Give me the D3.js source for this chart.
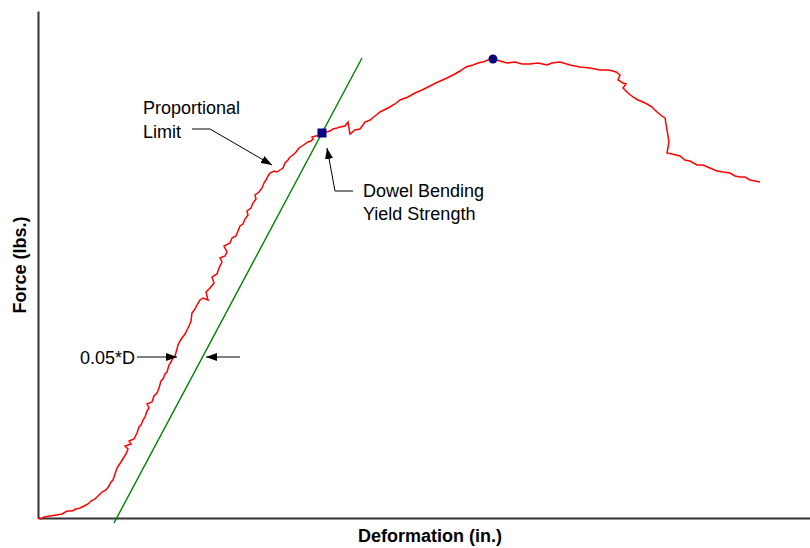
<!DOCTYPE html>
<html>
<head>
<meta charset="utf-8">
<script src="https://cdn.jsdelivr.net/npm/d3@7"></script>
<style>
  body { margin: 0; background: #fff; }
  svg { display: block; font-family: "Liberation Sans", Arial, sans-serif; }
  .note { font-size: 18px; fill: #000; }
  .axis-title { font-size: 18px; font-weight: bold; fill: #000; }
</style>
</head>
<body>
<div id="chart"></div>
<script>
const width = 810;
const height = 548;

// load-deformation record: [deformation (in.), force (lbs.)]
const curve = [
  [0.000,0],[0.003,-10],[0.006,10],[0.012,20],[0.018,30],[0.024,40],[0.029,70],[0.034,70],
  [0.038,90],[0.042,100],[0.046,120],[0.050,140],[0.053,170],[0.057,190],[0.061,230],[0.064,260],
  [0.068,280],[0.071,320],[0.073,360],[0.075,380],[0.077,440],[0.079,500],[0.081,530],[0.083,560],
  [0.086,610],[0.088,640],[0.090,690],[0.087,720],[0.093,740],[0.091,770],[0.096,790],[0.099,850],
  [0.101,910],[0.103,930],[0.105,980],[0.107,1010],[0.109,1070],[0.111,1100],[0.109,1140],[0.114,1160],
  [0.116,1220],[0.119,1250],[0.121,1300],[0.123,1370],[0.125,1390],[0.127,1440],[0.129,1460],[0.131,1530],
  [0.133,1560],[0.135,1600],[0.137,1620],[0.139,1690],[0.140,1730],[0.142,1770],[0.144,1800],[0.147,1840],
  [0.149,1880],[0.151,1920],[0.153,1970],[0.154,2050],[0.157,2090],[0.159,2130],[0.162,2180],[0.165,2200],
  [0.170,2180],[0.168,2260],[0.172,2300],[0.176,2350],[0.174,2410],[0.179,2440],[0.181,2500],[0.184,2560],
  [0.182,2600],[0.187,2620],[0.189,2660],[0.186,2720],[0.192,2750],[0.194,2800],[0.198,2820],[0.200,2870],
  [0.202,2920],[0.205,2940],[0.207,2990],[0.210,3030],[0.209,3070],[0.213,3100],[0.215,3150],[0.218,3190],
  [0.217,3230],[0.221,3260],[0.224,3300],[0.226,3350],[0.228,3380],[0.230,3420],[0.232,3450],[0.236,3470],
  [0.239,3460],[0.242,3480],[0.245,3500],[0.247,3550],[0.250,3580],[0.252,3610],[0.255,3630],[0.258,3660],
  [0.261,3700],[0.264,3720],[0.267,3740],[0.270,3760],[0.273,3770],[0.275,3790],[0.274,3810],[0.278,3820],
  [0.282,3830],[0.284,3850],[0.288,3860],[0.292,3870],[0.295,3890],[0.299,3900],[0.302,3910],[0.307,3920],
  [0.310,3960],[0.312,3840],[0.317,3880],[0.322,3890],[0.327,3960],[0.332,3980],[0.337,4020],[0.342,4060],
  [0.350,4100],[0.357,4140],[0.362,4180],[0.370,4210],[0.377,4250],[0.384,4280],[0.392,4320],[0.400,4360],
  [0.409,4400],[0.415,4430],[0.422,4470],[0.428,4510],[0.435,4530],[0.440,4550],[0.445,4560],[0.450,4580],
  [0.455,4590],[0.462,4570],[0.469,4550],[0.477,4560],[0.484,4540],[0.492,4540],[0.500,4550],[0.509,4530],
  [0.514,4550],[0.522,4560],[0.532,4530],[0.542,4510],[0.552,4500],[0.562,4480],[0.570,4480],[0.575,4470],
  [0.578,4460],[0.582,4430],[0.580,4380],[0.585,4350],[0.588,4340],[0.585,4300],[0.590,4250],[0.595,4210],
  [0.600,4180],[0.605,4160],[0.609,4140],[0.614,4110],[0.619,4060],[0.624,4020],[0.627,4000],[0.631,3760],
  [0.629,3650],[0.634,3640],[0.642,3620],[0.647,3580],[0.652,3570],[0.659,3530],[0.665,3530],[0.672,3500],
  [0.679,3470],[0.685,3460],[0.692,3450],[0.697,3420],[0.702,3410],[0.707,3410],[0.712,3380],[0.717,3370],
  [0.722,3360]
];

// 5% diameter offset line
const offset_line = [[0.076, -50], [0.324, 4600]];
const yield_point = [0.284, 3850];
const peak_point = [0.455, 4590];

// annotation targets
const prop_limit = [0.234, 3530];
const offset_force = 1610;
const offset_curve_x = 0.140;
const offset_line_x = 0.167;

const x_label = 'Deformation (in.)';
const y_label = 'Force (lbs.)';

const x_scale = d3.scaleLinear().domain([0, 0.772]).range([38, 810]);
const y_scale = d3.scaleLinear().domain([0, 5070]).range([518, 11]);

const svg = d3.select('#chart')
  .append('svg')
    .attr('width', width)
    .attr('height', height);

svg.append('defs').append('marker')
    .attr('id', 'arrow')
    .attr('viewBox', '0 0 11 8')
    .attr('refX', 11)
    .attr('refY', 4)
    .attr('markerWidth', 11)
    .attr('markerHeight', 8)
    .attr('markerUnits', 'userSpaceOnUse')
    .attr('orient', 'auto')
  .append('path')
    .attr('d', 'M0,0L11,4L0,8Z')
    .attr('fill', '#000');

// axes, no ticks
svg.append('g')
    .attr('transform', `translate(${x_scale(0)},0)`)
    .call(d3.axisLeft(y_scale).ticks(0).tickSizeOuter(0))
    .call(g => g.select('.domain').attr('stroke', '#333').attr('stroke-width', 2));
svg.append('g')
    .attr('transform', `translate(0,${y_scale(0)})`)
    .call(d3.axisBottom(x_scale).ticks(0).tickSizeOuter(0))
    .call(g => g.select('.domain').attr('stroke', '#333').attr('stroke-width', 2));

const line = d3.line()
  .x(d => x_scale(d[0]))
  .y(d => y_scale(d[1]));

svg.append('path')
    .datum(offset_line)
    .attr('d', line)
    .attr('fill', 'none')
    .attr('stroke', '#008000')
    .attr('stroke-width', 1.4);

svg.append('path')
    .datum(curve)
    .attr('d', line)
    .attr('fill', 'none')
    .attr('stroke', '#ff0000')
    .attr('stroke-width', 1.5)
    .attr('stroke-linejoin', 'miter');

svg.append('rect')
    .attr('x', x_scale(yield_point[0]) - 4.5)
    .attr('y', y_scale(yield_point[1]) - 4.5)
    .attr('width', 9)
    .attr('height', 9)
    .attr('fill', '#000080');

svg.append('circle')
    .attr('cx', x_scale(peak_point[0]))
    .attr('cy', y_scale(peak_point[1]))
    .attr('r', 4.5)
    .attr('fill', '#000080');

// annotations
const leader = (pts) => svg.append('path')
    .attr('d', d3.line()(pts))
    .attr('fill', 'none')
    .attr('stroke', '#000')
    .attr('stroke-width', 1)
    .attr('marker-end', 'url(#arrow)');

svg.append('text').attr('class', 'note').attr('x', 143).attr('y', 114).text('Proportional');
svg.append('text').attr('class', 'note').attr('x', 143).attr('y', 138).text('Limit');
leader([[192, 129], [210, 129], [x_scale(prop_limit[0]), y_scale(prop_limit[1])]]);

svg.append('text').attr('class', 'note').attr('x', 363).attr('y', 197).text('Dowel Bending');
svg.append('text').attr('class', 'note').attr('x', 363).attr('y', 220).text('Yield Strength');
leader([[353, 191], [335, 191], [x_scale(yield_point[0]) + 5, y_scale(yield_point[1]) + 15]]);

const oy = y_scale(offset_force);
svg.append('text').attr('class', 'note').attr('x', 80).attr('y', oy + 6.5).text('0.05*D');
leader([[137, oy], [x_scale(offset_curve_x) - 1, oy]]);
leader([[240, oy], [x_scale(offset_line_x) + 1, oy]]);

svg.append('text')
    .attr('class', 'axis-title')
    .attr('text-anchor', 'middle')
    .attr('x', 430)
    .attr('y', 542)
    .text(x_label);
svg.append('text')
    .attr('class', 'axis-title')
    .attr('text-anchor', 'middle')
    .attr('transform', 'translate(26,265) rotate(-90)')
    .text(y_label);
</script>
</body>
</html>
